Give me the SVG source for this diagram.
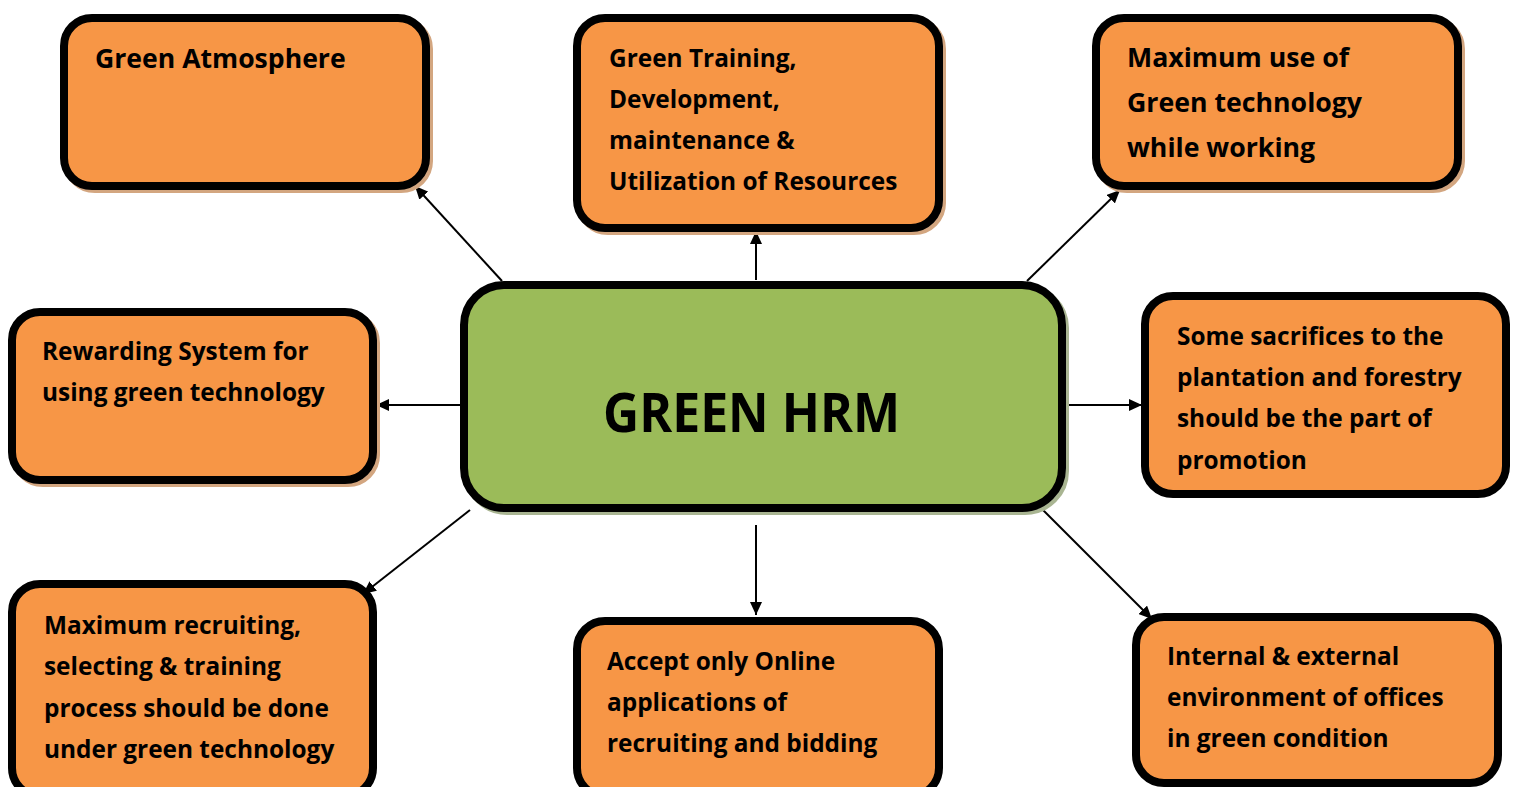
<svg xmlns="http://www.w3.org/2000/svg" width="1514" height="787" viewBox="0 0 1514 787">
<defs>
<marker id="arr" markerUnits="userSpaceOnUse" markerWidth="14" markerHeight="12" refX="13" refY="6" orient="auto">
<path d="M0,0 L13,6 L0,12 z" fill="#000"/>
</marker>
<style>
.box{fill:#F79646;stroke:#000;stroke-width:8}
.sh{fill:none;stroke:#D3A680;stroke-width:8}
.gbox{fill:#9BBB59;stroke:#000;stroke-width:8}
.gsh{fill:none;stroke:#A9B592;stroke-width:8}
.t{font-family:"Open Sans",Lato,sans-serif;font-weight:700;font-size:24.4px;fill:#000}
.big{font-family:"Open Sans",Lato,sans-serif;font-weight:700;font-size:54px;fill:#000}
.c{stroke:#000;stroke-width:2;fill:none;marker-end:url(#arr)}
</style>
</defs>
<rect width="1514" height="787" fill="#fff"/>
<g id="connectors">
<line class="c" x1="502" y1="281" x2="415" y2="186"/>
<line class="c" x1="756" y1="280" x2="756" y2="231"/>
<line class="c" x1="1027" y1="281" x2="1120" y2="190"/>
<line class="c" x1="460" y1="405" x2="376" y2="405"/>
<line class="c" x1="1068" y1="405" x2="1142" y2="405"/>
<line class="c" x1="470" y1="510" x2="363" y2="594"/>
<line class="c" x1="756" y1="525" x2="756" y2="615"/>
<line class="c" x1="1043" y1="510" x2="1152" y2="619"/>
</g>
<g id="n-atmosphere">
<rect class="sh" x="67" y="21" width="362" height="168" rx="28"/>
<rect class="box" x="64" y="18" width="362" height="168" rx="28"/>
<text class="t" x="95" y="68" style="font-size:26.6px">Green Atmosphere</text>
</g>
<g id="n-training">
<rect class="sh" x="580" y="21" width="362" height="210" rx="28"/>
<rect class="box" x="577" y="18" width="362" height="210" rx="28"/>
<text class="t" x="609" y="67">Green Training,</text>
<text class="t" x="609" y="108">Development,</text>
<text class="t" x="609" y="149">maintenance &amp;</text>
<text class="t" x="609" y="190">Utilization of Resources</text>
</g>
<g id="n-technology">
<rect class="sh" x="1099" y="21" width="362" height="168" rx="28"/>
<rect class="box" x="1096" y="18" width="362" height="168" rx="28"/>
<text class="t" x="1127" y="67" style="font-size:26.7px">Maximum use of</text>
<text class="t" x="1127" y="112" style="font-size:26.7px">Green technology</text>
<text class="t" x="1127" y="157" style="font-size:26.7px">while working</text>
</g>
<g id="n-rewarding">
<rect class="sh" x="15" y="315" width="361" height="168" rx="28"/>
<rect class="box" x="12" y="312" width="361" height="168" rx="28"/>
<text class="t" x="42" y="360">Rewarding System for</text>
<text class="t" x="42" y="401">using green technology</text>
</g>
<g id="n-center">
<rect class="gsh" x="467" y="288" width="598" height="223" rx="40"/>
<rect class="gbox" x="464" y="285" width="598" height="223" rx="40"/>
<text class="big" x="603" y="432" textLength="297" lengthAdjust="spacingAndGlyphs">GREEN HRM</text>
</g>
<g id="n-sacrifices">
<rect class="box" x="1145" y="296" width="361" height="198" rx="28"/>
<text class="t" x="1177" y="345">Some sacrifices to the</text>
<text class="t" x="1177" y="386">plantation and forestry</text>
<text class="t" x="1177" y="427">should be the part of</text>
<text class="t" x="1177" y="469">promotion</text>
</g>
<g id="n-recruiting">
<rect class="box" x="12" y="584" width="361" height="212" rx="28"/>
<text class="t" x="44" y="634">Maximum recruiting,</text>
<text class="t" x="44" y="675">selecting &amp; training</text>
<text class="t" x="44" y="717">process should be done</text>
<text class="t" x="44" y="758">under green technology</text>
</g>
<g id="n-online">
<rect class="box" x="577" y="621" width="362" height="175" rx="28"/>
<text class="t" x="607" y="670">Accept only Online</text>
<text class="t" x="607" y="711">applications of</text>
<text class="t" x="607" y="752">recruiting and bidding</text>
</g>
<g id="n-environment">
<rect class="box" x="1136" y="617" width="362" height="166" rx="28"/>
<text class="t" x="1167" y="665">Internal &amp; external</text>
<text class="t" x="1167" y="706">environment of offices</text>
<text class="t" x="1167" y="747">in green condition</text>
</g>
</svg>
